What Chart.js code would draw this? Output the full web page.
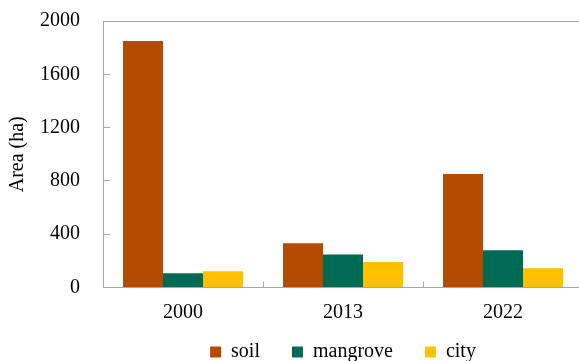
<!DOCTYPE html>
<html>
<head>
<meta charset="utf-8">
<script src="https://cdn.jsdelivr.net/npm/chart.js@4"></script>
<style>
  html, body { margin: 0; padding: 0; background: #fff; overflow: hidden; }
  /* canvas is a bit larger than the window: the original plot runs off the right edge */
  #wrap { width: 583px; height: 376px; }
</style>
</head>
<body>
<div id="wrap"><canvas id="areaChart"></canvas></div>
<script>
// ── Data ──────────────────────────────────────────
const years = ['2000', '2013', '2022'];
const soil = [1850, 333, 852];
const mangrove = [107, 247, 280];
const city = [122, 192, 144];
const yTicks = [0, 400, 800, 1200, 1600, 2000];

const axisGray = '#a6a6a6';
Chart.defaults.font.family = '"Liberation Serif", "Times New Roman", serif';
Chart.defaults.font.size = 20;
Chart.defaults.color = '#000';

new Chart(document.getElementById('areaChart').getContext('2d'), {
    type: 'bar',
    data: {
        labels: years,
        datasets: [
            { label: 'soil', data: soil, backgroundColor: '#b34b00' },
            { label: 'mangrove', data: mangrove, backgroundColor: '#006b55' },
            { label: 'city', data: city, backgroundColor: '#ffc000' }
        ]
    },
    options: {
        responsive: true,
        maintainAspectRatio: false,
        animation: false,
        categoryPercentage: 0.75,
        barPercentage: 1,
        layout: { padding: { top: 0, left: 0, right: 0, bottom: 4 } },
        plugins: {
            tooltip: { enabled: false },
            legend: {
                position: 'bottom',
                fullSize: false,
                labels: {
                    boxWidth: 11,
                    boxHeight: 11,
                    padding: 32
                }
            }
        },
        scales: {
            x: {
                // mirrored labels are not clipped, so the axis box can stay thin
                afterFit: (scale) => { scale.height = 22.5; },
                grid: {
                    offset: true,
                    drawOnChartArea: false,
                    tickLength: -6,
                    color: axisGray
                },
                border: { color: axisGray, width: 1 },
                ticks: { mirror: true, padding: -37.5 }
            },
            y: {
                min: 0,
                max: 2000,
                afterBuildTicks: (scale) => { scale.ticks = yTicks.map(v => ({ value: v })); },
                afterFit: (scale) => { scale.width = 103; scale.paddingTop = 21; },
                grid: {
                    color: (ctx) => (ctx.tick && ctx.tick.value === 2000 ? axisGray : 'transparent'),
                    tickColor: axisGray,
                    tickLength: -7
                },
                border: { color: axisGray, width: 1 },
                ticks: { padding: 30, callback: (v) => String(v) },
                title: {
                    display: true,
                    text: 'Area (ha)',
                    padding: { top: 6, bottom: 9 }
                }
            }
        }
    }
});
</script>
</body>
</html>
